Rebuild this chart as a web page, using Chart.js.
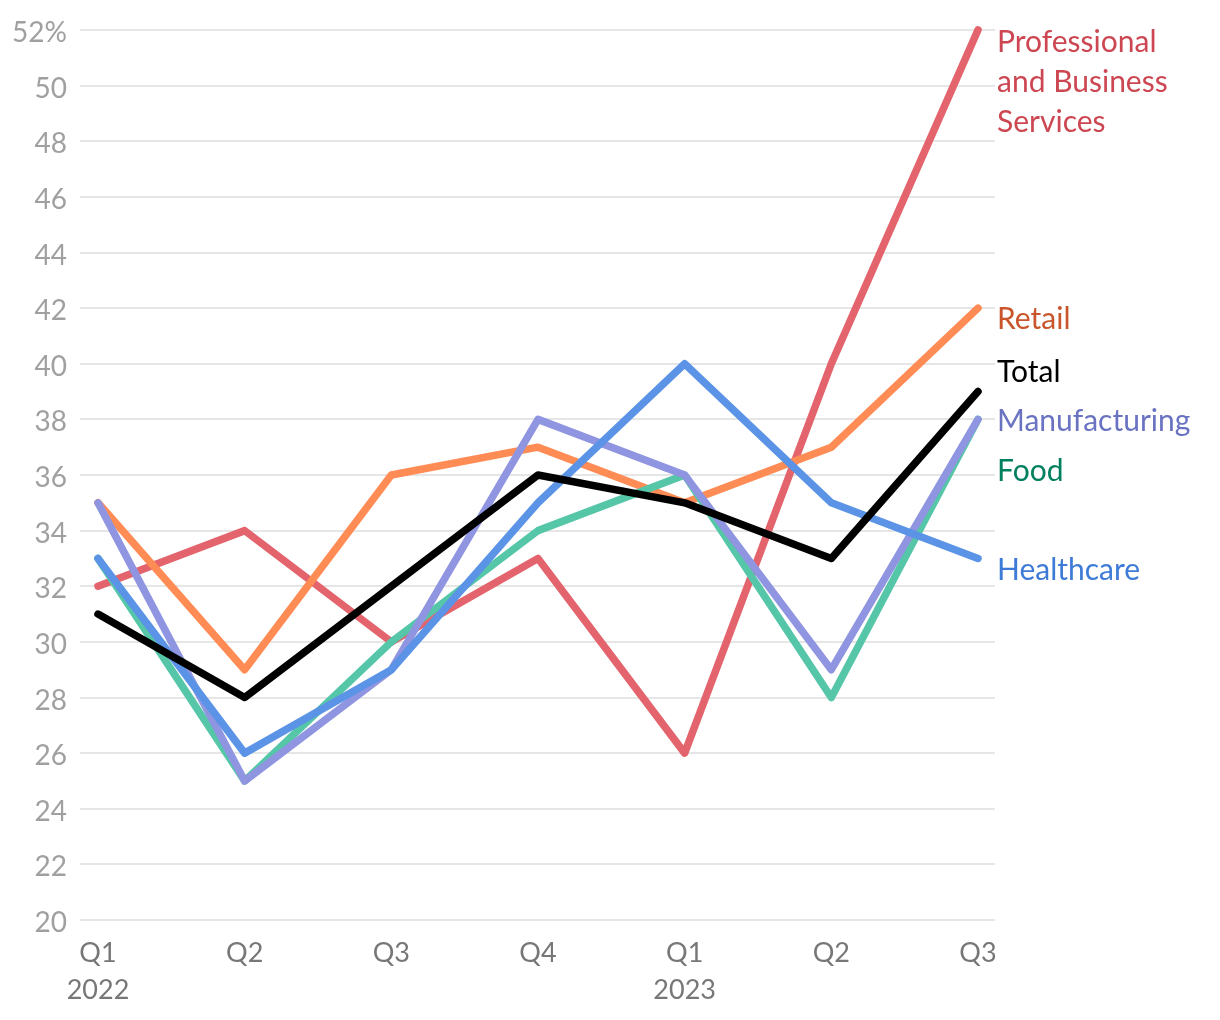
<!DOCTYPE html>
<html>
<head>
<meta charset="utf-8">
<script src="https://cdn.jsdelivr.net/npm/chart.js@4/dist/chart.umd.min.js"></script>
<style>
  html, body { margin: 0; padding: 0; background: #fff; }
  #wrap { width: 1220px; height: 1020px; }
</style>
</head>
<body>
<div id="wrap"><canvas id="chart" width="1220" height="1020"></canvas></div>
<script>
const quarters = [['Q1', '2022'], 'Q2', 'Q3', 'Q4', ['Q1', '2023'], 'Q2', 'Q3'];
const yTicks = [20, 22, 24, 26, 28, 30, 32, 34, 36, 38, 40, 42, 44, 46, 48, 50, 52];

const total = [31, 28, 32, 36, 35, 33, 39];
const professional = [32, 34, 30, 33, 26, 40, 52];
const retail = [35, 29, 36, 37, 35, 37, 42];
const manufacturing = [35, 25, 29, 38, 36, 29, 38];
const food = [33, 25, 30, 34, 36, 28, 38];
const healthcare = [33, 26, 29, 35, 40, 35, 33];

// where each end label sits, in axis units
const labelAt = {
    'Professional and Business Services': 51.57,
    'Retail': 41.6,
    'Total': 39.7,
    'Manufacturing': 37.94,
    'Food': 36.14,
    'Healthcare': 32.58
};

const FONT = 'Lato, "Source Sans Pro", sans-serif';

function pts(arr) {
    return arr.map((v, i) => ({ x: i, y: v }));
}

function series(label, data, color, textColor, lines) {
    return {
        label: label,
        data: pts(data),
        borderColor: color,
        textColor: textColor,
        lines: lines || [label],
        borderWidth: 7.5,
        borderCapStyle: 'round',
        borderJoinStyle: 'round',
        pointRadius: 0,
        tension: 0,
        fill: false,
        clip: false
    };
}

// first dataset is drawn on top
const datasets = [
    series('Total', total, '#000000', '#000000'),
    series('Healthcare', healthcare, '#5b93e6', '#3d7bd6'),
    series('Manufacturing', manufacturing, '#8f95e0', '#6a72c2'),
    series('Food', food, '#55c6a8', '#00805f'),
    series('Retail', retail, '#ff8b55', '#c9552b'),
    series('Professional and Business Services', professional, '#e3646c', '#cc4752',
        ['Professional', 'and Business', 'Services'])
];

const endLabels = {
    id: 'endLabels',
    afterDatasetsDraw(chart) {
        const ctx = chart.ctx;
        const y = chart.scales.y;
        ctx.save();
        ctx.font = '30px ' + FONT;
        ctx.textAlign = 'left';
        ctx.textBaseline = 'middle';
        chart.data.datasets.forEach(ds => {
            const base = y.getPixelForValue(labelAt[ds.label]);
            ctx.fillStyle = ds.textColor;
            ds.lines.forEach((t, i) => ctx.fillText(t, chart.chartArea.right + 2, base + i * 40));
        });
        ctx.restore();
    }
};

new Chart(document.getElementById('chart'), {
    type: 'line',
    data: { datasets: datasets },
    options: {
        responsive: false,
        animation: false,
        layout: { padding: { top: 30, right: 225, left: 0, bottom: 0 } },
        plugins: { legend: { display: false }, tooltip: { enabled: false } },
        scales: {
            x: {
                type: 'linear',
                min: -0.1227,
                max: 6.116,
                border: { display: false },
                grid: { display: false, drawTicks: false },
                afterBuildTicks: s => { s.ticks = quarters.map((q, i) => ({ value: i })); },
                afterFit: s => { s.height = 100; },
                ticks: {
                    padding: 14,
                    maxRotation: 0,
                    autoSkip: false,
                    color: '#777777',
                    font: { family: FONT, size: 27, lineHeight: 1.4 },
                    callback: v => quarters[v]
                }
            },
            y: {
                min: 20,
                max: 52,
                border: { display: false },
                grid: { color: '#e6e6e6', lineWidth: 2, drawTicks: false },
                afterBuildTicks: s => { s.ticks = yTicks.map(v => ({ value: v })); },
                afterFit: s => { s.width = 80; },
                ticks: {
                    padding: 13,
                    labelOffset: 3,
                    color: '#a0a0a0',
                    font: { family: FONT, size: 28 },
                    callback: v => v === 52 ? '52%' : String(v)
                }
            }
        }
    },
    plugins: [endLabels]
});
</script>
</body>
</html>
